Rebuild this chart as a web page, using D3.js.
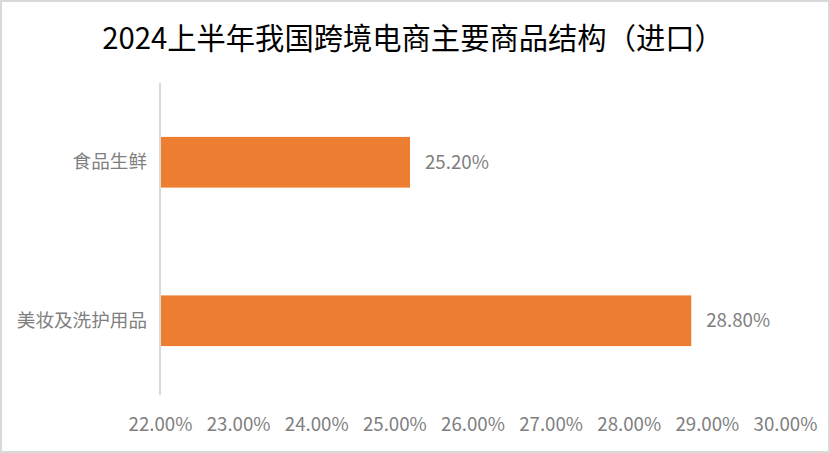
<!DOCTYPE html>
<html>
<head>
<meta charset="utf-8">
<script src="https://cdn.jsdelivr.net/npm/d3@7"></script>
<style>
  body { margin: 0; background: #fff; }
  svg { display: block; font-family: "Noto Sans CJK SC", "Noto Sans", sans-serif; }
</style>
</head>
<body>
<svg id="chart"></svg>
<script>
// chart data
const title = "2024上半年我国跨境电商主要商品结构（进口）";
const categories = ["食品生鲜", "美妆及洗护用品"];
const values = [25.2, 28.8];
const tickValues = [22, 23, 24, 25, 26, 27, 28, 29, 30];

const width = 830;
const height = 453;
const margin = { top: 83, right: 45, bottom: 53, left: 160 };

const svg = d3.select("#chart")
  .attr("width", width)
  .attr("height", height);

// outer frame
svg.append("rect")
  .attr("x", 1).attr("y", 1)
  .attr("width", width - 2).attr("height", height - 2)
  .attr("fill", "#fff")
  .attr("stroke", "#d9d9d9")
  .attr("stroke-width", 2);

svg.append("text")
  .attr("x", width / 2 - 2)
  .attr("y", 49)
  .attr("text-anchor", "middle")
  .attr("font-size", 29.3)
  .attr("fill", "#000")
  .text(title);

const x = d3.scaleLinear()
  .domain([22, 30])
  .range([margin.left, width - margin.right]);

const y = d3.scaleBand()
  .domain(categories)
  .range([margin.top, height - margin.bottom])
  .paddingInner(0.68)
  .paddingOuter(0.34);

// vertical axis line
svg.append("line")
  .attr("x1", margin.left).attr("x2", margin.left)
  .attr("y1", margin.top).attr("y2", height - margin.bottom - 5)
  .attr("stroke", "#d9d9d9")
  .attr("stroke-width", 2);

// bars
svg.append("g")
  .selectAll("rect")
  .data(values)
  .enter()
  .append("rect")
  .attr("x", x(22) + 1)
  .attr("y", (d, i) => y(categories[i]))
  .attr("width", (d) => x(d) - x(22) - 1)
  .attr("height", y.bandwidth())
  .attr("fill", "#ed7d31");

// value labels
svg.append("g")
  .selectAll("text")
  .data(values)
  .enter()
  .append("text")
  .attr("x", (d) => x(d) + 15)
  .attr("y", (d, i) => y(categories[i]) + y.bandwidth() / 2)
  .attr("dy", "0.35em")
  .attr("font-size", 18.7)
  .attr("fill", "#7f7f7f")
  .text((d) => d.toFixed(2) + "%");

// category labels
const yAxis = svg.append("g")
  .attr("transform", `translate(${margin.left},0)`)
  .call(d3.axisLeft(y).tickSize(0).tickPadding(13));
yAxis.select(".domain").remove();
yAxis.selectAll("text")
  .attr("font-size", 18.6)
  .attr("font-family", "Noto Sans CJK SC")
  .attr("fill", "#7f7f7f");

// x axis tick labels
const xAxis = svg.append("g")
  .attr("transform", `translate(0,${height - margin.bottom})`)
  .call(d3.axisBottom(x).tickValues(tickValues).tickSize(0).tickPadding(18)
    .tickFormat((d) => d.toFixed(2) + "%"));
xAxis.select(".domain").remove();
xAxis.selectAll("text")
  .attr("font-size", 18.7)
  .attr("font-family", "Noto Sans CJK SC")
  .attr("fill", "#7f7f7f");
</script>
</body>
</html>
